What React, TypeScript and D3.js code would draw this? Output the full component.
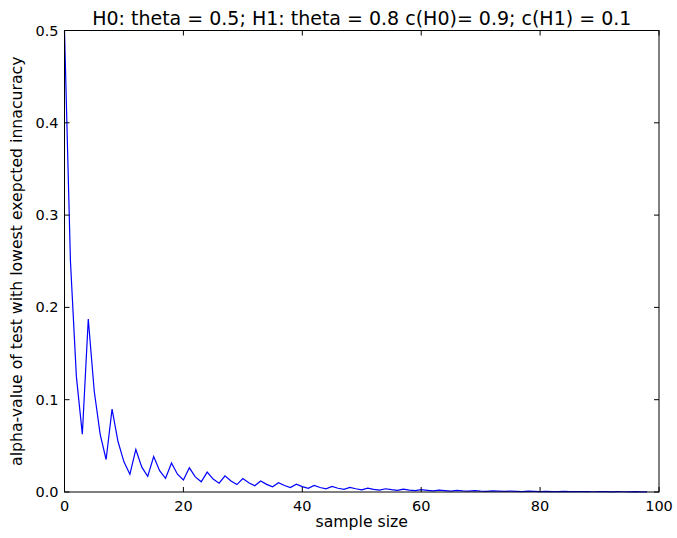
import React from "react";
import * as d3 from "d3";

const titleText = "H0: theta = 0.5; H1: theta = 0.8 c(H0)= 0.9; c(H1) = 0.1";
const xLabel = "sample size";
const yLabel = "alpha-value of test with lowest exepcted innacuracy";

const xTicks = [0, 20, 40, 60, 80, 100];
const yTicks = [0.0, 0.1, 0.2, 0.3, 0.4, 0.5];

const alphaValues = [
  0.5, 0.25, 0.125, 0.0625, 0.1875, 0.1094, 0.0625, 0.0352, 0.0898, 0.0547,
  0.0327, 0.0193, 0.0461, 0.0269, 0.0170, 0.0384, 0.0231, 0.0149, 0.0315, 0.0193,
  0.0130, 0.0262, 0.0164, 0.0111, 0.0216, 0.0140, 0.0095, 0.0176, 0.0119, 0.0080,
  0.0145, 0.0100, 0.0067, 0.0120, 0.0083, 0.0057, 0.0100, 0.0070, 0.0048, 0.0085,
  0.0058, 0.0040, 0.0071, 0.0049, 0.0034, 0.0060, 0.0041, 0.0029, 0.0050, 0.0035,
  0.0024, 0.0042, 0.0029, 0.0020, 0.0035, 0.0025, 0.0017, 0.0030, 0.0021, 0.0014,
  0.0025, 0.0018, 0.0012, 0.0021, 0.0015, 0.0010, 0.0018, 0.0012, 0.00085, 0.0015,
  0.0010, 0.0007, 0.0012, 0.00087, 0.0006, 0.0010, 0.0007, 0.0005, 0.00087, 0.0006,
  0.0004, 0.0007, 0.0005, 0.00035, 0.0006, 0.0004, 0.0003, 0.0005, 0.00035, 0.00025,
  0.0004, 0.0003, 0.0002, 0.00035, 0.00025, 0.00017, 0.0003, 0.0002, 0.00014,
];

const W = 677;
const H = 538;
const M = { left: 64.5, right: 659, top: 30.5, bottom: 492 };

export default function App() {
  const x = d3.scaleLinear().domain([0, 100]).range([M.left, M.right]);
  const y = d3.scaleLinear().domain([0, 0.5]).range([M.bottom, M.top]);
  const line = d3
    .line<number>()
    .x((_, i) => x(i))
    .y((d) => y(d));
  const font = "DejaVu Sans, sans-serif";
  const tl = 5;
  return (
    <svg
      width={W}
      height={H}
      style={{ position: "absolute", left: 0, top: 0, background: "#fff" }}
      fontFamily={font}
    >
      <rect x={0} y={0} width={W} height={H} fill="#fff" />
      <path d={line(alphaValues) || ""} fill="none" stroke="#0000ff" strokeWidth={1.2} />
      <rect
        x={M.left}
        y={M.top}
        width={M.right - M.left}
        height={M.bottom - M.top}
        fill="none"
        stroke="#000"
        strokeWidth={1}
      />
      {xTicks.map((t) => (
        <g key={"x" + t}>
          <line x1={x(t)} x2={x(t)} y1={M.bottom} y2={M.bottom - tl} stroke="#000" />
          <line x1={x(t)} x2={x(t)} y1={M.top} y2={M.top + tl} stroke="#000" />
          <text x={x(t)} y={M.bottom + 19} textAnchor="middle" fontSize={14.5} fill="#000">
            {t}
          </text>
        </g>
      ))}
      {yTicks.map((t) => (
        <g key={"y" + t}>
          <line x1={M.left} x2={M.left + tl} y1={y(t)} y2={y(t)} stroke="#000" />
          <line x1={M.right} x2={M.right - tl} y1={y(t)} y2={y(t)} stroke="#000" />
          <text x={M.left - 6} y={y(t) + 5} textAnchor="end" fontSize={14.5} fill="#000">
            {t.toFixed(1)}
          </text>
        </g>
      ))}
      <text x={(M.left + M.right) / 2} y={25} textAnchor="middle" fontSize={19} fill="#000">
        {titleText}
      </text>
      <text x={(M.left + M.right) / 2} y={527} textAnchor="middle" fontSize={15.7} fill="#000">
        {xLabel}
      </text>
      <text
        transform={`translate(22, ${(M.top + M.bottom) / 2}) rotate(-90)`}
        textAnchor="middle"
        fontSize={15.7}
        fill="#000"
      >
        {yLabel}
      </text>
    </svg>
  );
}
